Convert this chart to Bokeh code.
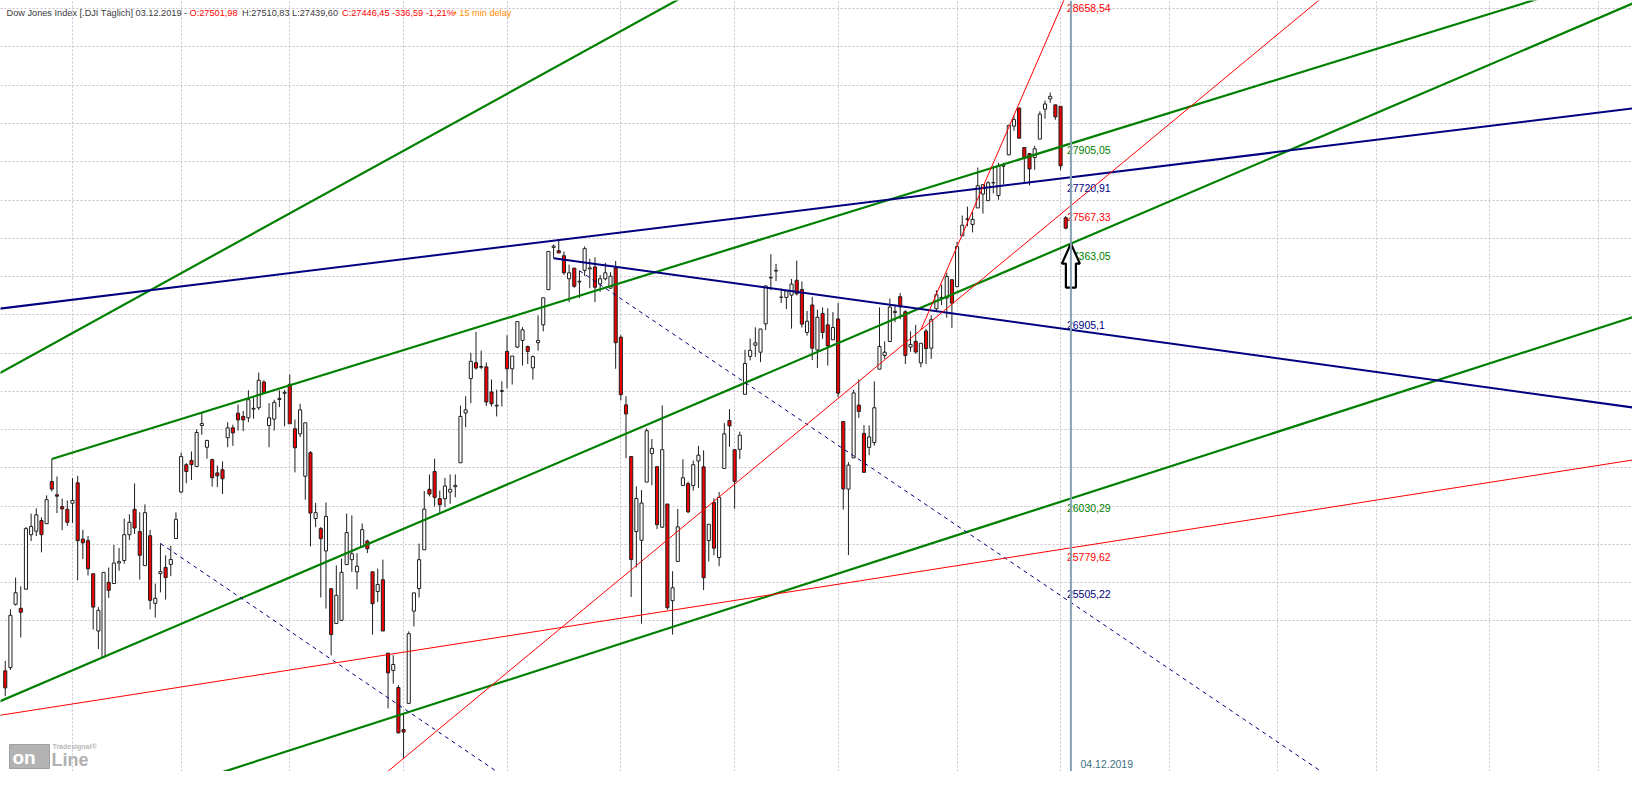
import math
import pandas as pd
from bokeh.plotting import figure
from bokeh.models import Range1d, FixedTicker, Span, ColumnDataSource
from bokeh.core.properties import value
from bokeh.embed import file_html
from bokeh.resources import INLINE

# ---------------- data ----------------
first_date = "2019-02-11"
last_date = "2019-12-03"
marker_date = "2019-12-04"

opens = [
    25166, 25182, 25496, 25476, 25572, 25846, 25864, 25918, 25902, 26117, 26049, 25989, 25975,
    26006, 26110, 25824, 25816, 25649, 25363, 25234, 25606, 25600, 25703, 25716, 25846, 25975,
    25862, 25690, 25841, 25501, 25650, 25681, 25696, 25827,
    26063, 26203, 26225, 26194, 26405, 26293, 26229, 26161, 26177, 26342, 26393, 26469, 26452,
    26445, 26490, 26497, 26631, 26405, 26438, 26540, 26572,
    26619, 26388, 26362, 26144, 26265, 25928, 25877, 25764, 25574, 25400, 25416, 25695, 25720,
    25659, 25784, 25814, 25659, 25560, 25619, 25253, 25168, 25084,
    24878, 25006, 25462, 25575, 25770, 26077, 26168, 26029, 26029, 26063, 26090, 26213, 26470,
    26649, 26732, 26708, 26710, 26579, 26506, 26582,
    26791, 26700, 26814, 26849, 26817, 26705, 26837, 26931, 27117, 27343, 27325, 27298, 27175,
    27232, 27158, 27220, 27228, 27238, 27148, 27175, 27125, 27232,
    26866, 26512, 26245, 25862, 25818, 26114, 26260, 26193, 25884, 26002, 25514, 25711, 26096,
    26106, 26096, 26222, 26192, 25816, 26009, 25731, 26184, 26431,
    26280, 26282, 26567, 26765, 26824, 26787, 26936, 27180, 27216, 27077, 27076, 27088, 27167,
    27118, 26891, 27036, 26799, 26991, 26931, 26852,
    26962, 26426, 26078, 26238, 26511, 26364, 26292, 26317, 26698, 26770, 26843, 26996, 27080,
    27000, 26814, 26844, 26731, 26898, 26808, 27016, 27076, 27073, 27170,
    27133, 27405, 27496, 27466, 27555, 27630, 27594, 27692, 27622, 27782, 27843, 28000, 28100,
    27883, 27850, 27829, 27929, 28093, 28150, 28117,
    28109, 27502,
]
highs = [
    25215, 25471, 25630, 25586, 25885, 25953, 25980, 25934, 26046, 26232, 26143, 26029, 26020,
    26134, 26146, 25871, 25839, 25650, 25482, 25656, 25680, 25794, 25779, 25928, 25950, 26107,
    25960, 26000, 25870, 25600, 25802, 25742, 25790, 25960,
    26266, 26211, 26271, 26385, 26475, 26331, 26234, 26198, 26220, 26422, 26409, 26514, 26480,
    26588, 26550, 26680, 26640, 26521, 26539, 26588, 26590,
    26670, 26436, 26518, 26419, 26273, 26008, 25885, 26010, 25574, 25691, 25725, 25953, 25944,
    25753, 25903, 25821, 25659, 25675, 25720, 25253, 25243, 25096,
    24957, 25361, 25553, 25801, 26068, 26153, 26234, 26071, 26136, 26153, 26153, 26508, 26557,
    26784, 26894, 26795, 26733, 26644, 26591, 26635,
    26876, 26767, 26948, 26919, 26822, 26770, 26980, 27074, 27321, 27358, 27378, 27320, 27250,
    27232, 27218, 27348, 27282, 27290, 27196, 27260, 27210, 27270,
    26877, 26557, 26245, 26092, 26073, 26390, 26335, 26193, 26509, 26002, 25662, 25977, 26231,
    26116, 26224, 26300, 26277, 25900, 26031, 26063, 26418, 26490,
    26280, 26373, 26800, 26859, 26918, 26910, 27138, 27306, 27255, 27124, 27115, 27174, 27272,
    27161, 27004, 27079, 27011, 27023, 27018, 26998,
    27046, 26426, 26216, 26590, 26644, 26407, 26405, 26634, 27023, 26844, 27070, 27038, 27099,
    27009, 26896, 26931, 26834, 26910, 26982, 27115, 27144, 27207, 27170,
    27373, 27514, 27562, 27533, 27774, 27681, 27700, 27784, 27800, 27800, 28005, 28057, 28100,
    27883, 27850, 27892, 28081, 28141, 28185, 28117,
    28109, 27511,
]
lows = [
    25041, 25170, 25490, 25331, 25570, 25814, 25839, 25757, 25902, 26066, 25956, 25869, 25891,
    25906, 25616, 25723, 25640, 25370, 25274, 25234, 25528, 25600, 25664, 25700, 25820, 25850,
    25620, 25690, 25470, 25430, 25556, 25520, 25637, 25827,
    26058, 26108, 26125, 26194, 26357, 26234, 26091, 26088, 26053, 26293, 26300, 26379, 26376,
    26422, 26440, 26486, 26570, 26293, 26379, 26500, 26401,
    26414, 26164, 26345, 26024, 25787, 25884, 25530, 25475, 25243, 25400, 25416, 25695, 25659,
    25571, 25784, 25753, 25345, 25508, 25363, 24981, 25103, 24859,
    24738, 25006, 25386, 25530, 25770, 26041, 25989, 25953, 25986, 26003, 26036, 26213, 26396,
    26521, 26696, 26698, 26506, 26504, 26452, 26504,
    26597, 26618, 26809, 26717, 26726, 26643, 26795, 26897, 27117, 27285, 27313, 27196, 27051,
    27127, 27073, 27190, 27125, 27051, 27106, 27166, 27125, 26700,
    26535, 26237, 25533, 25681, 25400, 26114, 26098, 25874, 25882, 25470, 25345, 25711, 26096,
    25955, 26070, 26084, 25567, 25711, 25742, 25687, 26184, 26295,
    25978, 26232, 26567, 26744, 26762, 26735, 26903, 27115, 27163, 27047, 27014, 26911, 27087,
    26917, 26874, 26746, 26704, 26857, 26717, 26852,
    26551, 25974, 25743, 26238, 26445, 26163, 26252, 26301, 26698, 26752, 26843, 26945, 26961,
    26725, 26789, 26779, 26708, 26725, 26752, 26998, 27035, 26968, 26915,
    27133, 27405, 27456, 27423, 27555, 27525, 27594, 27633, 27599, 27682, 27843, 27975, 27933,
    27687, 27677, 27762, 27929, 28041, 28128, 28035,
    27760, 27440,
]
closes = [
    25082, 25441, 25554, 25456, 25877, 25888, 25947, 25846, 26024, 26078, 26042, 25977, 25909,
    26020, 25816, 25805, 25674, 25482, 25466, 25656, 25566, 25703, 25710, 25846, 25909, 25880,
    25742, 25958, 25516, 25526, 25660, 25630, 25721, 25924,
    26245, 26168, 26203, 26369, 26415, 26328, 26136, 26146, 26131, 26393, 26367, 26434, 26434,
    26539, 26494, 26640, 26575, 26445, 26525, 26546, 26577,
    26414, 26290, 26486, 26419, 25956, 25958, 25826, 25939, 25345, 25541, 25656, 25857, 25750,
    25687, 25872, 25775, 25499, 25595, 25363, 25156, 25197, 24862,
    24866, 25350, 25553, 25720, 25976, 26053, 26036, 25998, 26094, 26077, 26097, 26452, 26486,
    26739, 26704, 26712, 26527, 26518, 26510, 26586,
    26700, 26767, 26948, 26905, 26791, 26764, 26849, 27074, 27321, 27350, 27313, 27207, 27207,
    27135, 27162, 27336, 27233, 27130, 27175, 27207, 27189, 26837,
    26565, 26465, 25721, 26030, 26007, 26378, 26287, 25897, 26280, 25479, 25579, 25886, 26136,
    25962, 26203, 26252, 25629, 25899, 25778, 26036, 26362, 26403,
    26118, 26355, 26728, 26797, 26836, 26909, 27137, 27182, 27220, 27077, 27111, 27147, 27095,
    26935, 26950, 26808, 26971, 26891, 26820, 26917,
    26573, 26079, 26201, 26574, 26478, 26164, 26346, 26497, 26817, 26787, 27025, 27002, 27026,
    26770, 26828, 26788, 26834, 26806, 26958, 27091, 27071, 27187, 27046,
    27347, 27462, 27493, 27493, 27675, 27681, 27691, 27691, 27784, 27782, 28005, 28036, 27934,
    27823, 27766, 27876, 28066, 28122, 28164, 28051,
    27783, 27446,
]

# trend lines: two anchor points (trading-day index, price) and drawn extent
line_names = ["G1", "G2", "G3", "G4", "B1", "B2", "B3a", "B3b", "R1", "R3", "R2"]
anchor_a_idx = [26.08, 36, 46, 87, 26.08, 133, 57, 138, 87, 104, 211.66]
anchor_a_price = [26680, 26232, 25234, 24817, 27017, 27285, 25802, 27218, 25190, 24738, 27390]
anchor_b_idx = [156.76, 233, 233, 233, 233, 233, 108.24, 233, 233, 233, 231.63]
anchor_b_price = [28698, 27905.05, 27363.05, 26030.29, 27720.91, 26905.1, 24909, 25505.22,
                  25779.62, 27567.33, 28698]
extent_from = [25, 36, 25, 25, 25, 133, 57, 138, 25, 96, 204]
extent_to = [160, 345, 345, 345, 345, 345, 150, 345, 345, 345, 235]

label_texts = ["28658,54", "27905,05", "27720,91", "27567,33", "27363,05", "26905,1",
               "26030,29", "25779,62", "25505,22"]
label_values = [28658.54, 27905.05, 27720.91, 27567.33, 27363.05, 26905.1,
                26030.29, 25779.62, 25505.22]

header_parts = ["Dow Jones Index [.DJI Täglich] 03.12.2019 -", "O:27501,98",
                "H:27510,83 L:27439,60", "C:27446,45 -336,59 -1,21%", "• 15 min delay"]

# ---------------- calendar ----------------
holidays = {"2019-01-01", "2019-01-21", "2019-02-18", "2019-04-19", "2019-05-27",
            "2019-07-04", "2019-09-02", "2019-11-28", "2019-12-25", "2020-01-01",
            "2020-01-20", "2020-02-17", "2020-04-10", "2020-05-25"}
cal = [d for d in pd.bdate_range("2019-01-02", "2020-06-30")
       if d.strftime("%Y-%m-%d") not in holidays]
pos = {d.strftime("%Y-%m-%d"): i for i, d in enumerate(cal)}
i0, i1 = pos[first_date], pos[last_date]
xs = list(range(i0, i1 + 1))
assert len(xs) == len(opens) == len(highs) == len(lows) == len(closes)
month_starts = []
seen = set()
for i, d in enumerate(cal):
    key = (d.year, d.month)
    if key not in seen:
        seen.add(key)
        month_starts.append(i)

# ---------------- layout ----------------
W, H = 1632, 771
PX_PER_IDX = 5.173
x_start = 40 - 72 / PX_PER_IDX
x_end = x_start + W / PX_PER_IDX
y_end = 28697.9
PX_PER_LN = 5104.0
y_start = math.exp(math.log(y_end) - H / PX_PER_LN)


def px_x(px):
    return x_start + px / PX_PER_IDX


def px_y(py):
    return math.exp(math.log(y_end) - py / PX_PER_LN)


p = figure(width=W, height=H, output_backend="svg", toolbar_location=None,
           x_range=Range1d(x_start, x_end), y_range=Range1d(y_start, y_end),
           y_axis_type="log", min_border=0)
p.axis.visible = False
p.outline_line_color = None
p.background_fill_color = "white"
p.border_fill_color = "white"

grid_vals = [27187 * 1.007526 ** k for k in range(-9, 14)]
p.ygrid.ticker = FixedTicker(ticks=grid_vals)
p.xgrid.ticker = FixedTicker(ticks=month_starts)
for g in (p.xgrid, p.ygrid):
    g.grid_line_color = "#cbbfcc"
    g.grid_line_dash = "2 2"
    g.grid_line_width = 1

# candles
up = [c >= o for o, c in zip(opens, closes)]
src = ColumnDataSource(dict(
    x=xs, o=opens, h=highs, l=lows, c=closes,
    top=[max(o, c) for o, c in zip(opens, closes)],
    bot=[min(o, c) for o, c in zip(opens, closes)],
    fill=["#ffffff" if u else "#f00000" for u in up],
))
p.segment(x0="x", y0="l", x1="x", y1="h", source=src, line_color="#1e1e1e", line_width=1)
p.vbar(x="x", top="top", bottom="bot", width=0.6, source=src, fill_color="fill",
       line_color="#1e1e1e", line_width=1)

# trend lines
styles = {
    "G": dict(line_color="#008000", line_width=2.2),
    "B": dict(line_color="#000080", line_width=2),
    "Bd": dict(line_color="#000080", line_width=1, line_dash="4 4"),
    "R": dict(line_color="#ff0000", line_width=1),
}


def line_price(k, x):
    la, lb = math.log(anchor_a_price[k]), math.log(anchor_b_price[k])
    slope = (lb - la) / (anchor_b_idx[k] - anchor_a_idx[k])
    return math.exp(la + slope * (x - anchor_a_idx[k]))


for k, name in enumerate(line_names):
    st = styles["Bd"] if name.startswith("B3") else styles[name[0]]
    xa, xb = extent_from[k], extent_to[k]
    p.line([xa, xb], [line_price(k, xa), line_price(k, xb)], **st)

# vertical marker line
vx = pos[marker_date]
p.add_layout(Span(location=vx, dimension="height", line_color="#86a1b1", line_width=2))

# value labels at the marker line
label_colors = ["#ff0000", "#008000", "#000080", "#ff0000", "#008000", "#000080",
                "#008000", "#ff0000", "#000080"]
label_dy = [0, 7, 11, 11, 12, -5, 10, 9, -8]
for t, v, col, dy in zip(label_texts, label_values, label_colors, label_dy):
    p.text(x=[vx], y=[v], text=[t], x_offset=-4, y_offset=dy, text_color=col,
           text_font=value("Liberation Sans"), text_font_size="10.5px",
           text_align="left", text_baseline="middle")

# arrow (up) pointing at the lower green channel line
tip_v = label_values[4]
arrow_dx = [0, 9, 5, 5, -5, -5, -9]
arrow_dy = [0, 20, 20, 44, 44, 20, 20]
ax = [vx + dx / PX_PER_IDX for dx in arrow_dx]
ay = [math.exp(math.log(tip_v) - dy / PX_PER_LN) for dy in arrow_dy]
p.patch(ax, ay, fill_color="white", line_color="black", line_width=2.2)

# header
hdr_colors = ["#3a3a3a", "#ff0000", "#3a3a3a", "#ff0000", "#ff8c00"]
hdr_px = [6, 189, 241.5, 341.5, 453]
for t, col, hx in zip(header_parts, hdr_colors, hdr_px):
    p.text(x=[px_x(hx)], y=[px_y(12.5)], text=[t], text_color=col,
           text_font=value("Liberation Sans"), text_font_size="9.2px",
           text_align="left", text_baseline="middle")

# date under marker line
p.text(x=[px_x(1080)], y=[px_y(763)], text=["04.12.2019"], text_color="#44717f",
       text_font=value("Liberation Sans"), text_font_size="10.5px",
       text_align="left", text_baseline="middle")

# logo
p.rect(x=[px_x(29)], y=[px_y(756)], width=40, height=24, width_units="screen",
       height_units="screen", fill_color="#b3b3b3", line_color="#a0a0a0", line_width=1)
p.text(x=[px_x(12)], y=[px_y(757)], text=["on"], text_color="white",
       text_font=value("Liberation Sans"), text_font_style="bold", text_font_size="19px",
       text_align="left", text_baseline="middle")
p.text(x=[px_x(51)], y=[px_y(759)], text=["Line"], text_color="#b0b0b0",
       text_font=value("Liberation Sans"), text_font_style="bold", text_font_size="18px",
       text_align="left", text_baseline="middle")
p.text(x=[px_x(52)], y=[px_y(746)], text=["Tradesignal®"], text_color="#b8b8b8",
       text_font=value("Liberation Sans"), text_font_style="bold", text_font_size="7px",
       text_align="left", text_baseline="middle")

open("out.html", "w").write(file_html(p, INLINE))
